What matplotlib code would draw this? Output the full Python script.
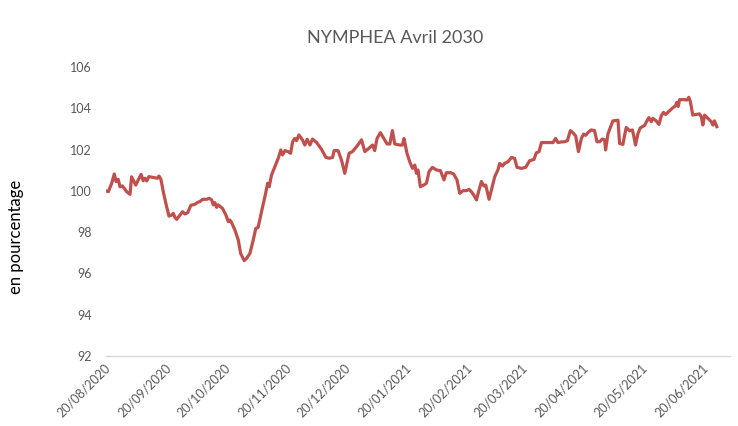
import pandas as pd
import numpy as np
import matplotlib
matplotlib.use("Agg")
import matplotlib.pyplot as plt
import matplotlib.transforms as mtransforms

# days elapsed since 20/08/2020
days = [0, 1.2, 2.9, 4.2, 5.1, 6.2, 7.1, 8.3, 10.5, 12.2, 13.0, 15.1, 17.8, 18.9,
        19.8, 20.7, 21.8, 24.5, 26.2, 26.9, 27.9, 29.1, 30.8, 32.0, 33.4, 34.2,
        35.0, 35.9, 37.6, 38.9, 40.1, 41.5, 43.1, 45.2, 46.5, 47.7, 49.1, 51.1,
        52.4, 53.7, 54.5, 55.3, 56.2, 57.0, 59.2, 60.9, 62.1, 62.9, 63.8, 65.5,
        67.2, 68.4, 70.2, 71.4, 73.1, 74.8, 76.1, 77.3, 79.0, 81.1, 82.1, 82.9,
        84.1, 85.8, 87.5, 88.8, 89.7, 90.9, 92.5, 93.8, 94.8, 95.9, 96.8, 98.0,
        99.8, 101.0, 102.2, 103.6, 104.9, 107.0, 109.5, 111.7, 113.4, 115.1,
        115.9, 117.9, 119.6, 121.3, 123.5, 125.2, 127.3, 129.8, 131.5, 134.0,
        135.4, 136.5, 137.7, 139.4, 141.1, 142.8, 144.2, 145.5, 146.7, 149.2,
        150.6, 151.4, 152.9, 154.3, 155.7, 156.9, 157.7, 158.5, 159.7, 161.4,
        162.8, 164.1, 165.8, 167.9, 169.9, 171.7, 172.9, 175.0, 176.6, 178.3,
        179.7, 181.4, 183.1, 184.4, 185.6, 186.8, 188.2, 189.5, 190.7, 191.9,
        192.9, 194.6, 195.8, 197.5, 199.1, 200.0, 201.4, 202.5, 204.2, 206.0,
        207.6, 208.8, 211.0, 213.2, 215.2, 217.4, 218.6, 220.0, 221.2, 223.7,
        227.1, 228.4, 229.6, 231.3, 233.0, 234.4, 235.9, 237.2, 238.6, 240.0,
        241.5, 242.6, 243.7, 244.8, 246.5, 248.2, 249.4, 250.8, 252.1, 253.3,
        253.8, 255.0, 256.7, 257.5, 260.1, 260.9, 262.6, 263.5, 264.3, 266.0,
        267.4, 268.0, 269.0, 270.2, 271.4, 273.6, 274.8, 275.8, 277.0, 277.8,
        279.5, 280.9, 282.1, 283.2, 284.3, 286.3, 288.0, 289.3, 290.0, 290.7,
        291.4, 293.4, 295.1, 296.1, 296.8, 298.1, 299.8, 301.5, 302.4, 303.2,
        304.1, 305.8, 307.5, 308.3, 309.1, 310.3]

values = [100.0, 99.96, 100.37, 100.82, 100.45, 100.56, 100.2, 100.24, 99.96,
          99.83, 100.68, 100.28, 100.8, 100.49, 100.61, 100.48, 100.69, 100.64,
          100.61, 100.72, 100.56, 99.96, 99.23, 98.78, 98.83, 98.91, 98.72,
          98.62, 98.83, 98.99, 98.88, 98.94, 99.3, 99.35, 99.44, 99.48, 99.59,
          99.59, 99.64, 99.56, 99.32, 99.43, 99.2, 99.32, 99.15, 98.83, 98.51,
          98.59, 98.46, 98.1, 97.62, 96.97, 96.62, 96.73, 96.97, 97.62, 98.18,
          98.23, 98.99, 99.88, 100.37, 100.2, 100.77, 101.17, 101.58, 101.98,
          101.74, 101.95, 101.9, 101.82, 102.38, 102.54, 102.43, 102.71, 102.47,
          102.22, 102.5, 102.22, 102.51, 102.34, 102.01, 101.62, 101.58, 101.62,
          101.95, 101.95, 101.5, 100.85, 101.82, 101.9, 102.14, 102.47, 101.9,
          102.1, 102.22, 101.95, 102.54, 102.82, 102.54, 102.27, 102.27, 102.92,
          102.27, 102.22, 102.22, 102.54, 101.82, 101.41, 101.09, 101.25, 100.85,
          101.01, 100.2, 100.28, 100.37, 100.93, 101.14, 101.01, 100.98, 100.53,
          100.88, 100.88, 100.82, 100.53, 99.88, 100.01, 100.01, 100.07, 99.96,
          99.8, 99.56, 100.04, 100.45, 100.24, 100.28, 99.59, 100.04, 100.69,
          101.01, 101.33, 101.2, 101.33, 101.41, 101.62, 101.57, 101.14, 101.09,
          101.14, 101.46, 101.52, 101.84, 101.9, 102.34, 102.34, 102.34, 102.54,
          102.34, 102.37, 102.38, 102.43, 102.92, 102.82, 102.66, 101.9, 102.54,
          102.75, 102.69, 102.82, 102.95, 102.92, 102.38, 102.38, 102.51, 102.47,
          101.98, 102.76, 103.19, 103.39, 103.42, 102.3, 102.25, 102.71, 103.07,
          102.91, 102.95, 102.71, 102.22, 102.76, 103.05, 103.17, 103.39, 103.55,
          103.35, 103.51, 103.39, 103.22, 103.64, 103.8, 103.7, 103.88, 104.03,
          104.12, 104.29, 104.09, 104.42, 104.42, 104.4, 104.53, 104.35, 103.67,
          103.7, 103.73, 103.59, 103.19, 103.67, 103.51, 103.35, 103.19, 103.39,
          103.11]

tick_labels = ["20/08/2020", "20/09/2020", "20/10/2020", "20/11/2020",
               "20/12/2020", "20/01/2021", "20/02/2021", "20/03/2021",
               "20/04/2021", "20/05/2021", "20/06/2021"]
y_ticks = [92, 94, 96, 98, 100, 102, 104, 106]

title = "NYMPHEA Avril 2030"
ylabel = "en pourcentage"

start = pd.Timestamp("2020-08-20")
dates = start + pd.to_timedelta(days, unit="D")
tick_dates = pd.to_datetime(tick_labels, format="%d/%m/%Y")

grey = "#595959"
plt.rcParams['font.family'] = ['Lato', 'DejaVu Sans']

fig = plt.figure(figsize=(7.38, 4.26), dpi=100)
ax = fig.add_axes([106 / 738, 1 - 356 / 426, 624 / 738, 289 / 426])

ax.plot(dates, values, color="#C0504D", linewidth=2.3, solid_joinstyle="round")

ax.set_ylim(92, 106)
ax.set_yticks(y_ticks)
ax.set_xlim(start, start + pd.Timedelta(days=317))
ax.set_xticks(tick_dates)
ax.set_xticklabels(tick_labels)

for s in ["top", "right", "left"]:
    ax.spines[s].set_visible(False)
ax.spines["bottom"].set_color("#D9D9D9")
ax.spines["bottom"].set_linewidth(1)
ax.tick_params(axis="both", length=0, colors=grey, labelsize=9)
ax.tick_params(axis="y", pad=10)

# rotated date labels, anchored at their right end just below the axis
offset = mtransforms.ScaledTranslation(-2 / 100, -1 / 100, fig.dpi_scale_trans)
for lab in ax.get_xticklabels():
    lab.set_rotation(45)
    lab.set_ha("right")
    lab.set_va("top")
    lab.set_rotation_mode("anchor")
    lab.set_transform(lab.get_transform() + offset)

fig.text(395 / 738, 1 - 38 / 426, title, ha="center", va="center", fontsize=13, color=grey)
fig.text(16 / 738, 1 - 237 / 426, ylabel, ha="center", va="center", rotation=90, fontsize=12, color="black")

fig.savefig("out.png", dpi=100)
